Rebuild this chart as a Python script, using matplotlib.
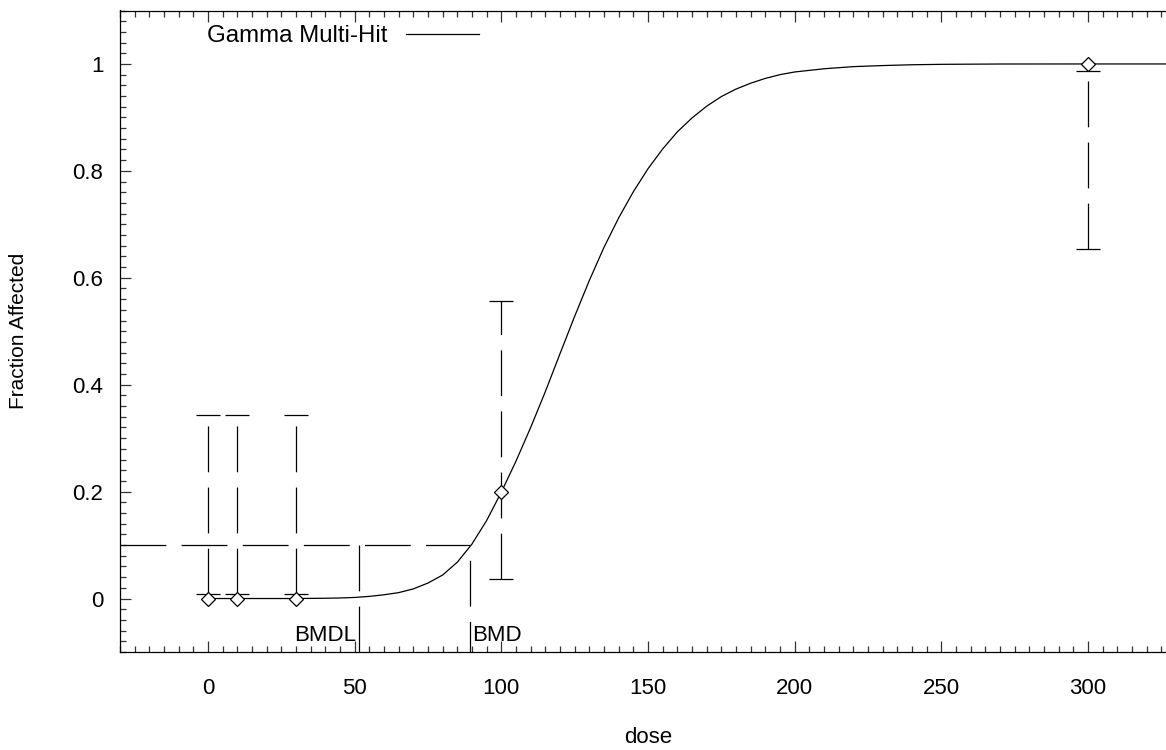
#!/usr/bin/env python3
"""
Gamma Multi-Hit モデルの用量反応曲線 (BMD / BMDL 表示)
"""

import matplotlib
matplotlib.use('Agg')
import matplotlib.pyplot as plt
from matplotlib.ticker import MultipleLocator, FixedLocator, FixedFormatter

plt.rcParams['font.family'] = ['Liberation Sans', 'DejaVu Sans']
plt.rcParams['lines.scale_dashes'] = False

# 観測データ
dose = [0, 10, 30, 100, 300]
frac = [0.0, 0.0, 0.0, 0.2, 1.0]
ci_low = [0.0093, 0.0093, 0.0093, 0.0368, 0.6536]
ci_high = [0.344, 0.344, 0.344, 0.5557, 0.9875]

# モデル曲線
curve_dose = [0, 10, 20, 30, 40, 45, 50, 55, 60, 65, 70, 75, 80, 85, 90, 95,
              100, 105, 110, 115, 120, 125, 130, 135, 140, 145, 150, 155, 160,
              165, 170, 175, 180, 185, 190, 195, 200, 210, 220, 230, 240, 250,
              270, 300, 330]
curve_frac = [0.0, 0.0, 0.0, 0.0, 0.0005, 0.001, 0.002, 0.004, 0.007, 0.011,
              0.018, 0.029, 0.044, 0.068, 0.102, 0.146, 0.199, 0.257, 0.320,
              0.387, 0.458, 0.528, 0.595, 0.657, 0.712, 0.761, 0.804, 0.841,
              0.873, 0.899, 0.921, 0.939, 0.953, 0.964, 0.973, 0.980, 0.985,
              0.991, 0.995, 0.997, 0.9985, 0.9993, 0.9999, 1.0, 1.0]

# BMR / BMD / BMDL
bmr = 0.1
bmd = 89.2
bmdl = 51.4

xticks = [0, 50, 100, 150, 200, 250, 300]
yticks = [0, 0.2, 0.4, 0.6, 0.8, 1.0]
ytick_labels = ['0', '0.2', '0.4', '0.6', '0.8', '1']

DASH = (0, (33, 11))
LW = 0.9

fig = plt.figure(figsize=(11.66, 7.5), dpi=100)
ax = fig.add_axes([0.1029, 0.1307, 0.9057, 0.8553])
ax.set_xlim(-30, 330)
ax.set_ylim(-0.1, 1.1)

# 曲線
curve, = ax.plot(curve_dose, curve_frac, color='black', lw=LW)

# 信頼区間 (下から上へ破線)
ax.vlines(dose, ci_low, ci_high, colors='black', linewidth=LW, linestyles=[DASH])
ax.plot(dose, ci_low, '_', color='black', ms=16.6, mew=LW)
ax.plot(dose, ci_high, '_', color='black', ms=16.6, mew=LW)
ax.plot(dose, frac, 'D', mfc='white', mec='black', ms=7, mew=LW, zorder=3)

# BMR 水平線 と BMD / BMDL 垂直線
ax.plot([-30, bmd], [bmr, bmr], color='black', lw=LW, linestyle=DASH)
ax.plot([bmdl, bmdl], [bmr, -0.1], color='black', lw=LW, linestyle=DASH)
ax.plot([bmd, bmd], [bmr, -0.1], color='black', lw=LW, linestyle=(33, (33, 11)))

ax.text(bmdl - 0.8, -0.08, 'BMDL', ha='right', va='baseline', fontsize=16)
ax.text(bmd + 0.8, -0.08, 'BMD', ha='left', va='baseline', fontsize=16)

# 軸
ax.xaxis.set_major_locator(FixedLocator(xticks))
ax.xaxis.set_minor_locator(MultipleLocator(5))
ax.yaxis.set_major_locator(FixedLocator(yticks))
ax.yaxis.set_major_formatter(FixedFormatter(ytick_labels))
ax.yaxis.set_minor_locator(MultipleLocator(0.02))
ax.tick_params(which='both', direction='in', top=True, right=False,
               color='#333333', width=LW)
ax.tick_params(which='major', length=8, labelsize=16)
ax.tick_params(which='minor', length=4.3)
ax.tick_params(axis='x', which='major', pad=19)
ax.tick_params(axis='y', which='major', pad=12)
for sp in ax.spines.values():
    sp.set_linewidth(LW)

ax.set_xlabel('dose', fontsize=16, labelpad=20)
ax.set_ylabel('Fraction Affected', fontsize=15, labelpad=32)

ax.legend([curve], ['Gamma Multi-Hit'], loc='upper left',
          bbox_to_anchor=(0.082, 0.977), markerfirst=False, frameon=False,
          handlelength=3.05, handletextpad=0.8, borderpad=0,
          borderaxespad=0, fontsize=17.3)

fig.savefig('out.png', dpi=100)
